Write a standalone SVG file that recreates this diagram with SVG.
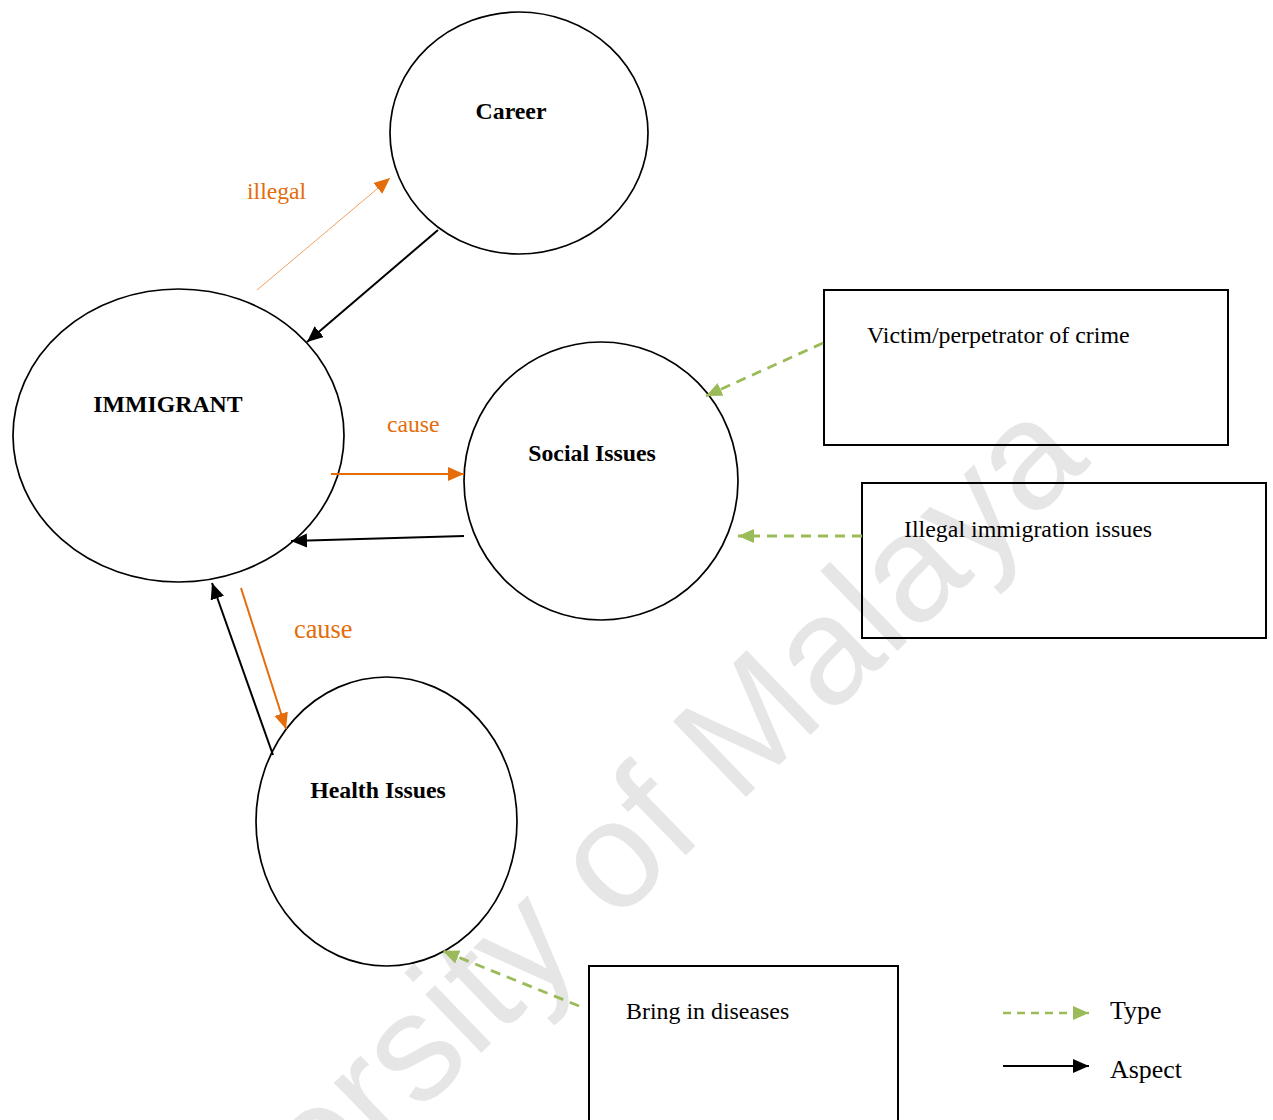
<svg xmlns="http://www.w3.org/2000/svg" width="1273" height="1120" viewBox="0 0 1273 1120">
<style>
.node{fill:none;stroke:#000;stroke-width:1.7}
.box{fill:none;stroke:#000;stroke-width:2}
.title{font-family:"Liberation Serif","Times New Roman",serif;font-size:23.8px;font-weight:bold;fill:#000;text-anchor:middle}
.txt{font-family:"Liberation Serif","Times New Roman",serif;font-size:23.9px;fill:#000}
.leg{font-family:"Liberation Serif","Times New Roman",serif;font-size:25.9px;fill:#000}
.lbl{font-family:"Liberation Serif","Times New Roman",serif;font-size:23.7px;fill:#E46C0A}
.blk{stroke:#000;stroke-width:2;fill:none;marker-end:url(#ab)}
.org{stroke:#E46C0A;stroke-width:2;fill:none;marker-end:url(#ao)}
.orgt{stroke:#F0A060;stroke-width:1;fill:none;marker-end:url(#ao)}
.grn{stroke:#9BBB59;stroke-width:2.8;stroke-dasharray:10 7;fill:none;marker-end:url(#ag)}
.wm{font-family:"Liberation Sans",Arial,sans-serif;font-size:153px;fill:#e6e6e6}
</style>
<defs>
<marker id="ab" markerUnits="userSpaceOnUse" markerWidth="17" markerHeight="15" refX="16" refY="7" orient="auto"><path d="M0,0 L16,7 L0,14 z" fill="#000"/></marker>
<marker id="ao" markerUnits="userSpaceOnUse" markerWidth="17" markerHeight="15" refX="16" refY="7" orient="auto"><path d="M0,0 L16,7 L0,14 z" fill="#E46C0A"/></marker>
<marker id="ag" markerUnits="userSpaceOnUse" markerWidth="17" markerHeight="15" refX="16" refY="7" orient="auto"><path d="M0,0 L16,7 L0,14 z" fill="#9BBB59"/></marker>
</defs>
<rect width="1273" height="1120" fill="#fff"/>
<text class="wm" transform="translate(101,1420) rotate(-44)">University of Malaya</text>

<g id="career"><ellipse class="node" cx="519" cy="133" rx="129" ry="121"/><text class="title" x="511" y="119">Career</text></g>
<g id="immigrant"><ellipse class="node" cx="178.5" cy="435.5" rx="165.5" ry="146.5"/><text class="title" x="168" y="412">IMMIGRANT</text></g>
<g id="social"><ellipse class="node" cx="601" cy="481" rx="137" ry="139"/><text class="title" x="592" y="461">Social Issues</text></g>
<g id="health"><ellipse class="node" cx="386.5" cy="821.5" rx="130.5" ry="144.5"/><text class="title" x="378" y="798">Health Issues</text></g>
<g id="crime"><rect class="box" x="824" y="290" width="404" height="155"/><text class="txt" x="867" y="343">Victim/perpetrator of crime</text></g>
<g id="illegalimm"><rect class="box" x="862" y="483" width="404" height="155"/><text class="txt" x="904" y="537">Illegal immigration issues</text></g>
<g id="diseases"><rect class="box" x="589" y="966" width="309" height="200"/><text class="txt" x="626" y="1019">Bring in diseases</text></g>

<g id="connectors">
<line class="orgt" x1="257" y1="290" x2="390" y2="178"/>
<line class="blk" x1="438" y1="230" x2="307" y2="342"/>
<line class="org" x1="331" y1="474" x2="464" y2="474"/>
<line class="blk" x1="464" y1="536" x2="291" y2="541"/>
<line class="blk" x1="273" y1="755" x2="212" y2="583"/>
<line class="org" x1="241" y1="588" x2="286" y2="729"/>
<line class="grn" x1="823" y1="343" x2="706" y2="396"/>
<line class="grn" x1="862" y1="536" x2="738" y2="536"/>
<line class="grn" x1="579" y1="1006" x2="443" y2="951"/>
</g>
<g id="labels">
<text class="lbl" x="247" y="199">illegal</text>
<text class="lbl" x="387" y="432">cause</text>
<text class="lbl" x="294" y="638" style="font-size:26.3px">cause</text>
</g>
<g id="legend">
<line class="grn" x1="1003" y1="1013" x2="1089" y2="1013" style="stroke-dasharray:8 6;stroke-width:2.4"/>
<text class="leg" x="1110" y="1019">Type</text>
<line class="blk" x1="1003" y1="1066" x2="1089" y2="1066"/>
<text class="leg" x="1110" y="1078">Aspect</text>
</g>
</svg>
